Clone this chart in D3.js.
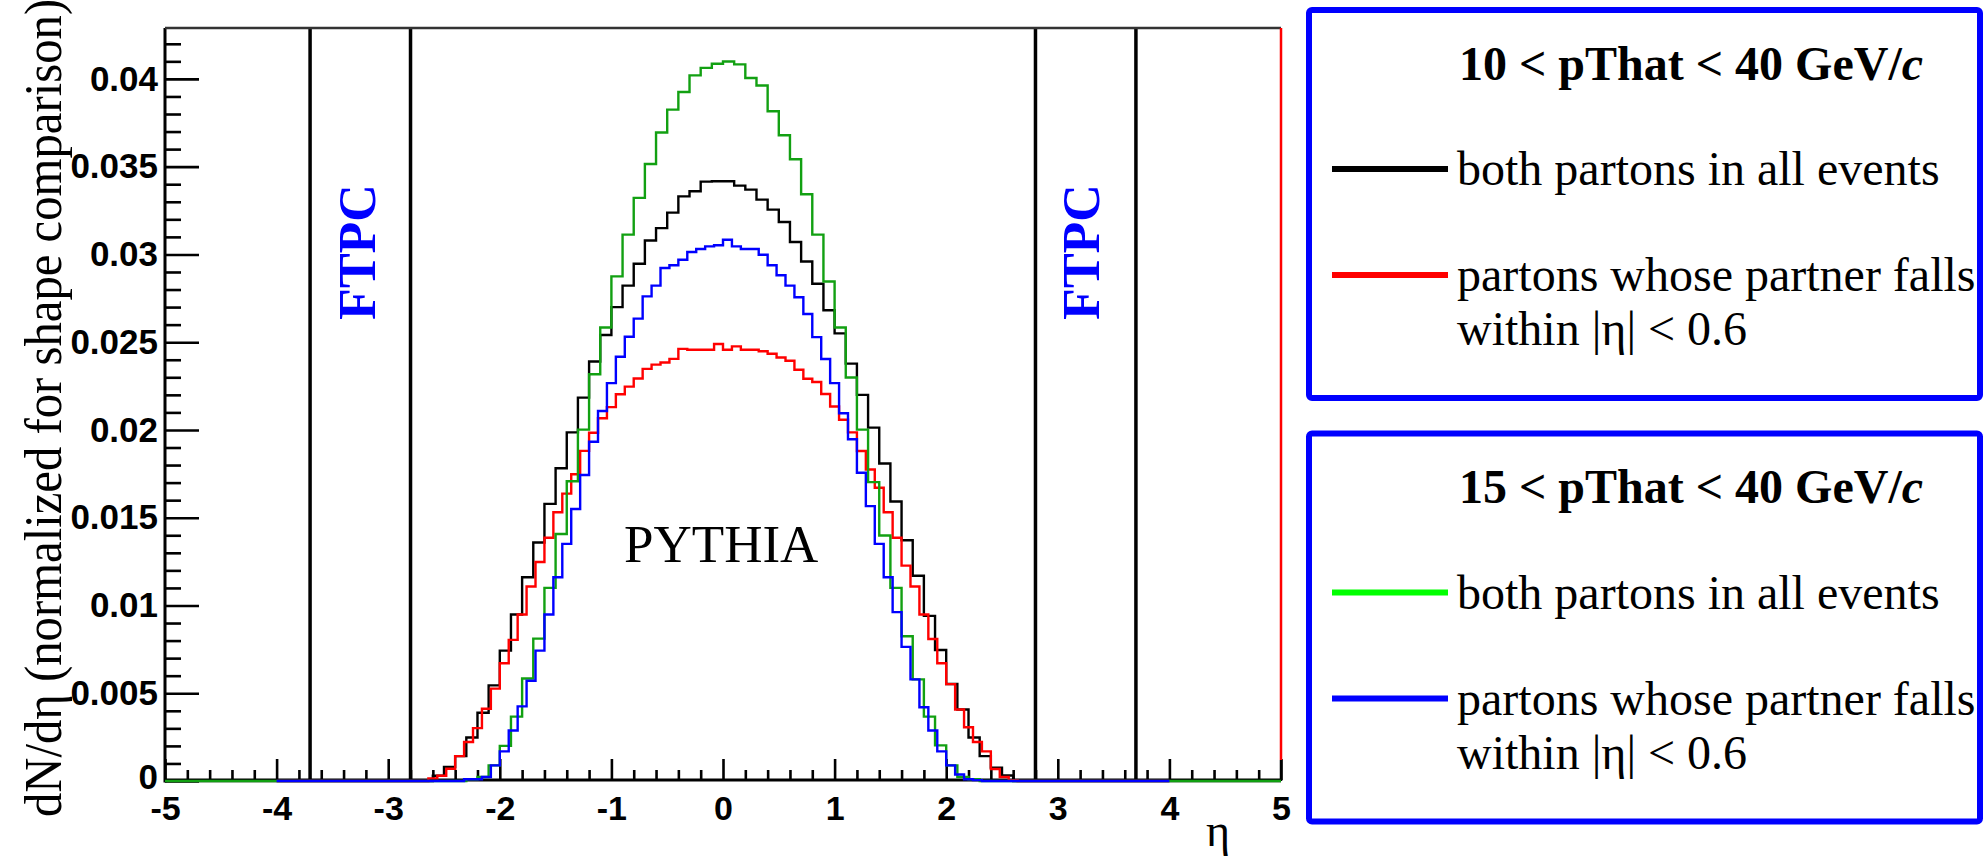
<!DOCTYPE html>
<html><head><meta charset="utf-8">
<script src="https://cdn.jsdelivr.net/npm/d3@7"></script>
<style>body{margin:0;background:#fff;} svg{display:block;}</style>
</head><body>
<svg id="chart" width="1985" height="858"></svg>
<script>
// ---------------- data ----------------
const etaDomain = [-5, 5];
const yMax = 0.0429;
const xMajorTicks = [-5,-4,-3,-2,-1,0,1,2,3,4,5];
const xTickLabels = ["-5","-4","-3","-2","-1","0","1","2","3","4","5"];
const yMajorTicks = [0,0.005,0.01,0.015,0.02,0.025,0.03,0.035,0.04];
const yTickLabels = ["0","0.005","0.01","0.015","0.02","0.025","0.03","0.035","0.04"];
const ftpcEdges = [-3.7,-2.8,2.8,3.7];
const ftpcLabelEta = [-3.27, 3.27];

// 10 < pThat < 40, both partons (black), 0.1 bins, hist range -5..5
const blackStart = -2.6, blackWidth = 0.1, blackRange = [-5,5];
const blackValues = [0.0003,0.0008,0.00142,0.00248,0.00389,0.00545,0.00743,0.00949,0.01161,0.01359,
  0.01579,0.01782,0.01986,0.02184,0.0239,0.02541,0.027,0.02822,0.02947,0.03079,
  0.0315,0.03238,0.03331,0.0336,0.03415,0.03417,0.03417,0.03392,0.03369,0.03312,
  0.03255,0.03185,0.03071,0.0296,0.02833,0.02682,0.0255,0.02378,0.022,0.02013,
  0.01809,0.01592,0.01372,0.01169,0.00941,0.00746,0.00553,0.00407,0.00248,0.00142,
  0.00076,0.00031];

// 10 < pThat < 40, partner within |eta|<0.6 (red), 0.08 bins, hist range -4..4
const redStart = -2.64, redWidth = 0.08, redRange = [-4,4];
const redValues = [0.00015,0.0003,0.0007,0.00142,0.00222,0.00301,0.00412,0.00526,0.00671,0.00804,
  0.00949,0.01108,0.01248,0.01386,0.01531,0.01637,0.01748,0.01881,0.01984,0.02067,
  0.0213,0.02203,0.02247,0.02293,0.02348,0.02372,0.02384,0.02405,0.02462,0.02457,
  0.02457,0.02457,0.0249,
  0.02457,0.02476,0.02457,0.02457,0.02448,0.02434,0.02413,0.02394,0.02343,0.02292,
  0.02273,0.02205,0.02134,0.02058,0.01986,0.0188,0.01775,0.01671,0.01531,0.01386,
  0.01227,0.01108,0.00949,0.00809,0.00671,0.00552,0.00407,0.00306,0.00222,0.00169,
  0.00068,0.00023,0.00005];
const redEdgeTop = 0.0429, redEdgeBottom = 0.0012;

// 15 < pThat < 40, both partons (green), 0.1 bins, hist range -5..5
const greenStart = -2.3, greenWidth = 0.1, greenRange = [-5,5];
const greenValues = [0.0001,0.00023,0.00089,0.0020,0.00367,0.00584,0.00811,0.0110,0.01407,0.01708,
  0.02002,0.02317,0.02584,0.02875,0.03113,0.03322,0.03515,0.03695,0.03825,0.03925,
  0.0402,0.04063,0.04086,0.04099,0.04083,0.04005,0.03962,0.03816,0.03679,0.03542,
  0.03343,0.03113,0.02846,0.02584,0.02299,0.02002,0.01703,0.01399,0.0110,0.00825,
  0.00579,0.00367,0.00203,0.00089,0.00023,0.0001];

// 15 < pThat < 40, partner within |eta|<0.6 (blue), 0.08 bins, hist range -4..4
const blueStart = -2.32, blueWidth = 0.08, blueRange = [-4,4];
const blueValues = [0.0001,0.0001,0.00023,0.00089,0.00169,0.00288,0.00425,0.00571,0.00743,0.00949,
  0.01161,0.01351,0.0155,0.01743,0.01933,0.02108,0.02267,0.02417,0.02531,0.02634,
  0.02761,0.02822,0.02923,0.02938,0.0297,0.03014,0.03031,0.03046,0.03052,
  0.03084,0.03046,0.03031,0.03031,0.02998,0.02938,0.02881,0.02822,0.02756,0.02661,
  0.02529,0.02404,0.02267,0.02095,0.01947,0.01756,0.01566,0.01351,0.01161,0.00962,
  0.00764,0.00579,0.0042,0.00288,0.00169,0.00089,0.00037,0.0001,0.00005];

const legendTitles = ["10 < pThat < 40 GeV/", "15 < pThat < 40 GeV/"];
const legendLabels = [
  [["both partons in all events"], ["partons whose partner falls", "within |η| < 0.6"]],
  [["both partons in all events"], ["partons whose partner falls", "within |η| < 0.6"]]
];
const legendColors = [["#000000", "#ff0000"], ["#00ff00", "#0000ff"]];
const plotColors = {black: "#000000", red: "#ff0000", green: "#12a012", blue: "#0000ff"};

// ---------------- drawing ----------------
const svg = d3.select("#chart");
svg.append("rect").attr("width",1985).attr("height",858).attr("fill","#fff");

const x = d3.scaleLinear().domain(etaDomain).range([165, 1281]);
const y = d3.scaleLinear().domain([0, yMax]).range([781, 28]);

const tickFont = "'Liberation Sans', Arial, Helvetica, sans-serif";
const serif = "'Liberation Serif', 'Times New Roman', Times, serif";

// FTPC lines
svg.selectAll("line.ftpc").data(ftpcEdges).enter().append("line")
  .attr("x1", d => x(d)).attr("x2", d => x(d))
  .attr("y1", y(yMax)).attr("y2", y(0))
  .attr("stroke", "#000").attr("stroke-width", 3.5);

// FTPC labels
svg.selectAll("text.ftpc").data(ftpcLabelEta).enter().append("text")
  .attr("transform", (d,i) => `translate(${i===0 ? 375 : 1099},252) rotate(-90)`)
  .attr("text-anchor","middle")
  .attr("font-family", serif).attr("font-weight","bold").attr("font-size", 52)
  .attr("fill","#0000ff").text("FTPC");

// axes
const xMinor = d3.range(-5, 5.0001, 0.2).map(v => Math.round(v*10)/10).filter(v => !xMajorTicks.includes(v));
const yMinor = d3.range(0, 0.04201, 0.001).map(v => Math.round(v*1000)/1000).filter(v => !yMajorTicks.some(t => Math.abs(t-v) < 1e-9));

const gx = svg.append("g").attr("transform","translate(0,780)");
gx.call(d3.axisBottom(x).tickValues(xMajorTicks).tickSize(-21).tickSizeOuter(0).tickPadding(16)
  .tickFormat((d,i) => xTickLabels[i]));
const gxm = svg.append("g").attr("transform","translate(0,780)");
gxm.call(d3.axisBottom(x).tickValues(xMinor).tickSize(-10).tickSizeOuter(0).tickFormat(""));
gxm.select(".domain").remove();

const gy = svg.append("g").attr("transform","translate(165,0)");
gy.call(d3.axisLeft(y).tickValues(yMajorTicks).tickSize(-34).tickSizeOuter(0).tickPadding(7)
  .tickFormat((d,i) => yTickLabels[i]));
const gym = svg.append("g").attr("transform","translate(165,0)");
gym.call(d3.axisLeft(y).tickValues(yMinor).tickSize(-16).tickSizeOuter(0).tickFormat(""));
gym.select(".domain").remove();

svg.selectAll(".tick line").attr("stroke","#000").attr("stroke-width",2.6);
svg.selectAll(".domain").attr("stroke","#000").attr("stroke-width",3);
gx.selectAll("text").attr("font-family", tickFont).attr("font-weight","bold")
  .attr("font-size",34).attr("fill","#000");
gy.selectAll("text").attr("font-family", tickFont).attr("font-weight","bold")
  .attr("font-size",35).attr("fill","#000");
gy.selectAll(".tick").filter(d => d === 0).select("text").attr("dy","0.22em");
gy.select(".domain").attr("d", `M0,${y(yMax)}V${y(0)+1.5}`);
gx.select(".domain").attr("d", `M${x(-5)},0H${x(5)}`);

// top frame + right frame
svg.append("line").attr("x1", x(-5)).attr("x2", x(5)).attr("y1", y(yMax)).attr("y2", y(yMax))
  .attr("stroke","#333").attr("stroke-width",2.5);
svg.append("line").attr("x1", x(5)).attr("x2", x(5)).attr("y1", y(redEdgeBottom)).attr("y2", y(0))
  .attr("stroke","#000").attr("stroke-width",2.5);

// histograms
function histPath(start, width, values, range) {
  const pts = [[range[0], 0], [start, 0]];
  values.forEach((v, i) => {
    const lo = start + i*width, hi = start + (i+1)*width;
    pts.push([lo, v], [hi, v]);
  });
  const end = start + values.length*width;
  pts.push([end, 0], [range[1], 0]);
  return d3.line().x(d => x(d[0])).y(d => y(d[1]))(pts);
}
const series = [
  {start: blackStart, width: blackWidth, values: blackValues, range: blackRange, color: plotColors.black},
  {start: redStart, width: redWidth, values: redValues, range: redRange, color: plotColors.red},
  {start: greenStart, width: greenWidth, values: greenValues, range: greenRange, color: plotColors.green},
  {start: blueStart, width: blueWidth, values: blueValues, range: blueRange, color: plotColors.blue}
];
svg.selectAll("path.hist").data(series).enter().append("path")
  .attr("d", d => histPath(d.start, d.width, d.values, d.range))
  .attr("fill","none").attr("stroke", d => d.color).attr("stroke-width", 2.4)
  .attr("stroke-linejoin","miter");

// red edge at the right frame
svg.append("line").attr("x1", x(5)).attr("x2", x(5)).attr("y1", y(redEdgeTop)).attr("y2", y(redEdgeBottom))
  .attr("stroke","#ff0000").attr("stroke-width",2.5);

// PYTHIA
svg.append("text").attr("x",624).attr("y",562).attr("font-family",serif).attr("font-size",53)
  .attr("fill","#000").text("PYTHIA");

// axis titles
svg.append("text").attr("transform","translate(61,408) rotate(-90) scale(1.015,1.1)").attr("text-anchor","middle")
  .attr("font-family",serif).attr("font-size",48).attr("fill","#000")
  .text("dN/dη (normalized for shape comparison)");
svg.append("text").attr("x",1218).attr("y",846).attr("text-anchor","middle")
  .attr("font-family",serif).attr("font-size",46).attr("fill","#000").text("η");

// legends
const boxTops = [10, 433.5];
legendTitles.forEach((title, b) => {
  const top = boxTops[b];
  const g = svg.append("g");
  g.append("rect").attr("x",1309).attr("y",top).attr("width",671).attr("height",388)
    .attr("rx",3).attr("fill","#fff").attr("stroke","#0000ff").attr("stroke-width",6);
  const t = g.append("text").attr("x",1459).attr("y",top+69.5).attr("font-family",serif)
    .attr("font-weight","bold").attr("font-size",48).attr("fill","#000");
  t.append("tspan").text(title);
  t.append("tspan").attr("font-style","italic").text("c");
  const lineYs = [159, 265];
  const textYs = [175, 281];
  legendLabels[b].forEach((lines, k) => {
    g.append("line").attr("x1",1332).attr("x2",1448)
      .attr("y1", top+lineYs[k]).attr("y2", top+lineYs[k])
      .attr("stroke", legendColors[b][k]).attr("stroke-width",6);
    lines.forEach((ln, j) => {
      g.append("text").attr("x",1457).attr("y", top+textYs[k]+j*54)
        .attr("font-family",serif).attr("font-size",48).attr("fill","#000").text(ln);
    });
  });
});
</script>
</body></html>
